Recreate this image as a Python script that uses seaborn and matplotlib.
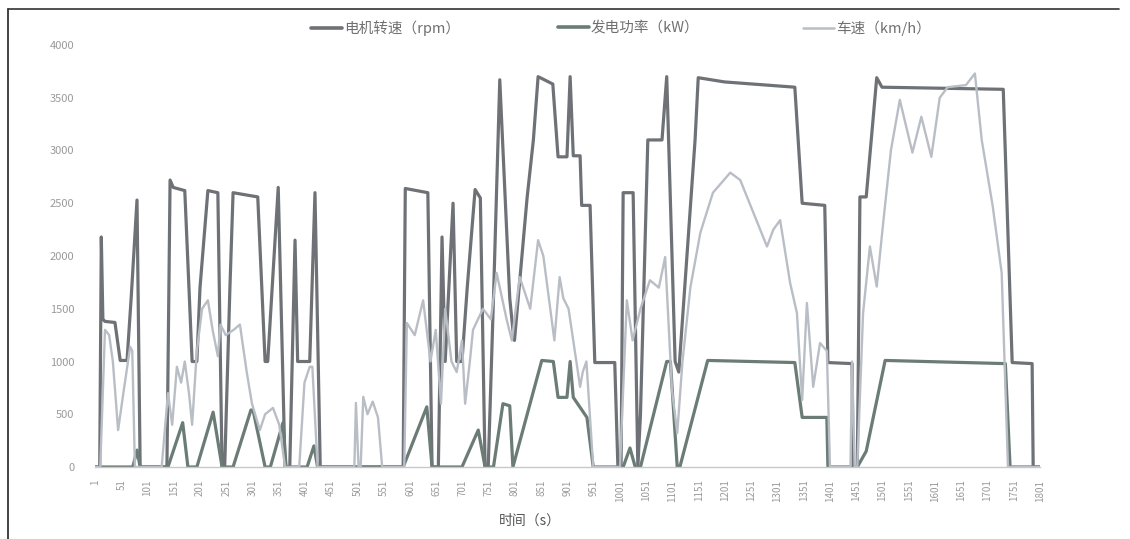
import numpy as np
import pandas as pd
import matplotlib
matplotlib.use("Agg")
import matplotlib.pyplot as plt
import seaborn as sns
from matplotlib.lines import Line2D

# ---- data ----
series_names = ["电机转速（rpm）", "发电功率（kW）", "车速（km/h）"]

motor_t = [1, 10, 13, 16, 20, 39, 49, 62, 70, 81, 87, 138, 144, 150, 172, 186, 195, 201, 216, 235, 243,
           248, 258, 264, 311, 325, 330, 350, 363, 372, 382, 387, 410, 420, 430, 588, 592, 635, 643, 655,
           662, 668, 683, 690, 700, 710, 725, 735, 744, 750, 760, 772, 791, 797, 800, 824, 836, 845, 873,
           883, 900, 906, 912, 925, 928, 944, 953, 991, 997, 1003, 1007, 1026, 1035, 1040, 1054, 1081,
           1090, 1106, 1113, 1144, 1150, 1200, 1334, 1348, 1391, 1397, 1443, 1445, 1453, 1458, 1470,
           1490, 1500, 1731, 1748, 1786, 1788, 1800]
motor_v = [0, 0, 2180, 1400, 1380, 1370, 1010, 1010, 1610, 2530, 0, 0, 2720, 2650, 2620, 1000, 1000, 1700,
           2620, 2600, 0, 0, 1700, 2600, 2560, 1000, 1000, 2650, 0, 0, 2150, 1000, 1000, 2600, 0, 0, 2640,
           2600, 0, 0, 2180, 1000, 2500, 1000, 1000, 1700, 2630, 2550, 0, 0, 1600, 3670, 1600, 1300, 1200,
           2550, 3100, 3700, 3630, 2940, 2940, 3700, 2950, 2950, 2480, 2480, 990, 990, 0, 0, 2600, 2600, 0,
           500, 3100, 3100, 3700, 1000, 900, 3100, 3690, 3650, 3600, 2500, 2480, 990, 980, 0, 0, 2560,
           2560, 3690, 3600, 3580, 990, 980, 0, 0]

power_t = [1, 73, 81, 87, 140, 168, 178, 195, 226, 243, 264, 298, 302, 325, 335, 359, 365, 405, 418, 425,
           588, 633, 643, 700, 731, 744, 760, 778, 791, 797, 852, 874, 883, 900, 906, 912, 938, 950, 1007,
           1020, 1030, 1040, 1090, 1097, 1110, 1115, 1168, 1334, 1348, 1395, 1397, 1453, 1470, 1506, 1735,
           1744, 1800]
power_v = [0, 0, 160, 0, 0, 420, 0, 0, 520, 0, 0, 540, 540, 0, 0, 420, 0, 0, 200, 0,
           0, 570, 0, 0, 350, 0, 0, 600, 580, 0, 1010, 1000, 660, 660, 1000, 660, 470, 0, 0,
           180, 0, 0, 1000, 1000, 0, 0, 1010, 990, 470, 470, 0, 0, 150, 1010, 980,
           0, 0]

speed_t = [1, 11, 20, 28, 35, 45, 55, 68, 72, 77, 128, 140, 148, 157, 165, 172, 180, 186, 195, 205, 216,
           225, 235, 240, 250, 265, 277, 290, 300, 315, 325, 340, 352, 363, 390, 400, 410, 415, 425, 495,
           498, 503, 507, 512, 520, 530, 540, 548, 590, 595, 610, 626, 640, 650, 660, 668, 680, 690, 700,
           706, 715, 721, 740, 755, 766, 785, 795, 810, 830, 845, 855, 876, 886, 893, 903, 925, 930, 937,
           950, 1001, 1014, 1025, 1040, 1058, 1075, 1087, 1100, 1110, 1120, 1135, 1154, 1178, 1211, 1230,
           1255, 1281, 1293, 1306, 1325, 1338, 1348, 1357, 1369, 1382, 1395, 1401, 1440, 1443, 1448, 1453,
           1464, 1477, 1490, 1502, 1517, 1534, 1558, 1575, 1594, 1610, 1625, 1660, 1677, 1690, 1711, 1728,
           1740, 1800]
speed_v = [0, 0, 1300, 1250, 1000, 350, 700, 1140, 1100, 0, 0, 700, 400, 950, 800, 1000, 700, 400, 1100,
           1500, 1580, 1300, 1050, 1350, 1250, 1300, 1350, 900, 600, 350, 500, 560, 400, 0, 0, 800, 950,
           950, 0, 0, 607, 0, 0, 665, 500, 620, 470, 0, 0, 1365, 1250, 1580, 1000, 1300, 600, 1500, 1000,
           900, 1200, 600, 1000, 1300, 1500, 1400, 1840, 1400, 1200, 1800, 1500, 2150, 2000, 1200, 1800,
           1600, 1500, 760, 900, 1000, 0, 0, 1580, 1200, 1500, 1770, 1700, 1990, 730, 320, 1000, 1700,
           2220, 2600, 2790, 2720, 2410, 2090, 2250, 2340, 1745, 1460, 635, 1555, 760, 1175, 1100, 0, 0,
           1000, 0, 0, 1460, 2090, 1710, 2300, 3000, 3480, 2980, 3320, 2940, 3500, 3600, 3620, 3730, 3100,
           2470, 1840, 0, 0]

x_ticks = list(range(1, 1802, 50))
y_ticks = list(range(0, 4001, 500))

colors = ["#6e7276", "#6b7b75", "#b9bec6"]

# ---- plotting ----
sns.set_style("white")
plt.rcParams['font.family'] = ['Noto Sans CJK SC', 'DejaVu Sans']

W, H = 1130, 539
fig = plt.figure(figsize=(W / 100, H / 100), dpi=100)
ax = fig.add_axes([95 / W, 1 - 467 / H, (1040 - 95) / W, (467 - 45) / H])

sns.lineplot(x=motor_t, y=motor_v, ax=ax, color=colors[0], linewidth=2.3, label=series_names[0])
sns.lineplot(x=power_t, y=power_v, ax=ax, color=colors[1], linewidth=2.3, label=series_names[1])
sns.lineplot(x=speed_t, y=speed_v, ax=ax, color=colors[2], linewidth=1.7, label=series_names[2])

ax.set_xlim(1, 1801)
ax.set_ylim(0, 4000)
ax.set_xticks(x_ticks)
ax.set_xticklabels([str(v) for v in x_ticks], rotation=90, fontsize=7, color="#9a9a9a")
ax.set_yticks(y_ticks)
ax.set_yticklabels([str(v) for v in y_ticks], fontsize=8, color="#9a9a9a")
ax.tick_params(axis='x', length=0, pad=9)
ax.tick_params(axis='y', length=0, pad=15)
for s in ["top", "right", "left"]:
    ax.spines[s].set_visible(False)
ax.spines["bottom"].set_color("#c8c8c8")
ax.spines["bottom"].set_linewidth(1.0)
ax.set_xlabel("时间（s）", fontsize=10, color="#555555")
ax.xaxis.set_label_coords((530 - 95) / (1040 - 95), -(514 - 467) / (467 - 45))
ax.set_ylabel("")

leg = ax.get_legend()
if leg is not None:
    leg.remove()

# legend entries placed like the original (three separate entries along the top)
legend_x = [311, 558, 803]
for i, (name, c) in enumerate(zip(series_names, colors)):
    h = Line2D([0], [0], color=c, lw=2.6 if i < 2 else 1.8)
    fig.legend([h], [name], loc="center left", bbox_to_anchor=(legend_x[i] / W, 1 - 28 / H),
               frameon=False, fontsize=10.5, handlelength=2.1, handletextpad=0.15,
               borderaxespad=0, borderpad=0, labelcolor="#707070")

# frame lines of the scanned picture (left and top)
fig.add_artist(Line2D([8 / W, 8 / W], [0.0, 1 - 9 / H], transform=fig.transFigure, color="#222222", lw=1.2))
fig.add_artist(Line2D([8 / W, 0.99], [1 - 9 / H, 1 - 9 / H], transform=fig.transFigure, color="#333333", lw=1.2))

fig.savefig("out.png", dpi=100, facecolor="white")
